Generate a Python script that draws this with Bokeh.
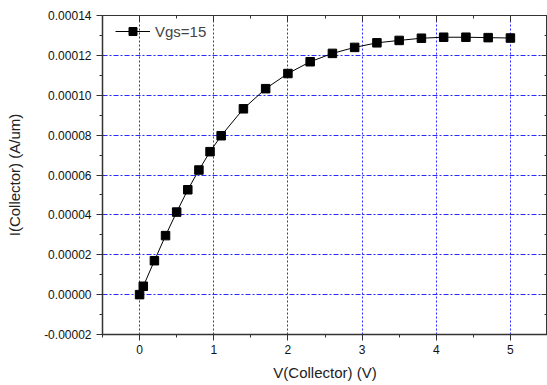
from bokeh.plotting import figure
from bokeh.models import (LinearAxis, Range1d, PrintfTickFormatter, FixedTicker, Legend,
                          LegendItem, CustomJSTickFormatter)
from bokeh.embed import file_html
from bokeh.resources import INLINE

v_collector = [0.0, 0.05, 0.2, 0.35, 0.5, 0.65, 0.8, 0.95, 1.1, 1.4, 1.7, 2.0, 2.3, 2.6, 2.9,
               3.2, 3.5, 3.8, 4.1, 4.4, 4.7, 5.0]
i_collector = [0.0, 4.2e-6, 1.70e-5, 2.96e-5, 4.14e-5, 5.26e-5, 6.25e-5, 7.17e-5, 7.97e-5,
               9.32e-5, 1.033e-4, 1.109e-4, 1.168e-4, 1.210e-4, 1.240e-4, 1.263e-4, 1.275e-4,
               1.286e-4, 1.291e-4, 1.291e-4, 1.289e-4, 1.287e-4]
x_ticks = [0, 1, 2, 3, 4, 5]
y_ticks = [-0.00002, 0.0, 0.00002, 0.00004, 0.00006, 0.00008, 0.00010, 0.00012, 0.00014]
series_label = "Vgs=15"

FONT = "Liberation Sans"
AXIS_COLOR = "#333333"

p = figure(width=547, height=385, output_backend="svg", toolbar_location=None,
           x_range=Range1d(-0.5, 5.5), y_range=Range1d(-0.00002, 0.00014),
           min_border_left=102, min_border_right=0, min_border_top=15, min_border_bottom=51)
p.outline_line_color = AXIS_COLOR
p.background_fill_color = "white"
p.border_fill_color = "white"

xt = FixedTicker(ticks=x_ticks, minor_ticks=[-0.5 + 0.5 * i for i in range(13)])
yt = FixedTicker(ticks=y_ticks, minor_ticks=[-0.00002 + 0.00001 * i for i in range(17)])

p.xaxis.ticker = xt
p.yaxis.ticker = yt
p.yaxis.formatter = PrintfTickFormatter(format="%.5f")
p.xaxis.axis_label = "V(Collector) (V)"
p.yaxis.axis_label = "I(Collector) (A/um)"
for ax in (p.xaxis[0], p.yaxis[0]):
    ax.axis_line_color = AXIS_COLOR
    ax.major_tick_line_color = AXIS_COLOR
    ax.minor_tick_line_color = AXIS_COLOR
    ax.major_tick_out = 6
    ax.major_tick_in = 0
    ax.minor_tick_out = 3
    ax.minor_tick_in = 0
    ax.axis_line_width = 1.5
    ax.major_label_text_font = FONT
    ax.major_label_text_font_size = "12px"
    ax.major_label_text_color = "#111111"
    ax.axis_label_text_font = FONT
    ax.axis_label_text_font_style = "normal"
    ax.axis_label_text_font_size = "15px"
    ax.axis_label_text_color = "#222222"
p.xaxis.major_label_standoff = 4
p.yaxis.major_label_standoff = 5
p.xaxis.axis_label_standoff = 7
p.yaxis.axis_label_standoff = 18

for loc, tick in (("right", yt), ("above", xt)):
    ax = LinearAxis(ticker=tick, formatter=CustomJSTickFormatter(code="return ''"))
    ax.axis_line_color = AXIS_COLOR
    ax.major_tick_line_color = AXIS_COLOR
    ax.minor_tick_line_color = AXIS_COLOR
    ax.major_tick_in = 6
    ax.major_tick_out = 0
    ax.minor_tick_in = 3
    ax.minor_tick_out = 0
    ax.major_label_standoff = 0
    p.add_layout(ax, loc)

p.xgrid.ticker = xt
p.ygrid.ticker = yt
p.xgrid.grid_line_color = "#2b2bff"
p.xgrid.grid_line_dash = "2 2"
p.ygrid.grid_line_color = "#2b2bff"
p.ygrid.grid_line_dash = "5 2 2 2"
p.xgrid.grid_line_width = 1
p.ygrid.grid_line_width = 1
p.xgrid.grid_line_alpha = 1
p.ygrid.grid_line_alpha = 1

ln = p.line(v_collector, i_collector, line_color="black", line_width=1)
sc = p.scatter(v_collector, i_collector, marker="square", size=8.5, fill_color="black", line_color="black")

legend = Legend(items=[LegendItem(label=series_label, renderers=[ln, sc])], location=(13, 293))
legend.border_line_color = None
legend.background_fill_alpha = 0
legend.label_text_font = FONT
legend.label_text_font_size = "15px"
legend.glyph_width = 35
legend.label_standoff = 5
legend.margin = 0
legend.padding = 4
p.add_layout(legend)

open("out.html", "w").write(file_html(p, INLINE))
